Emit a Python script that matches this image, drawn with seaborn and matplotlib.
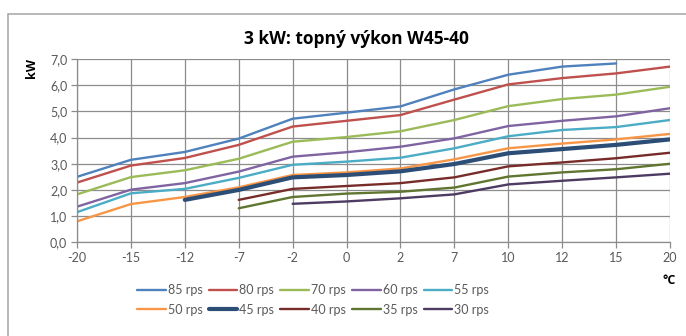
import numpy as np
import pandas as pd
import matplotlib
matplotlib.use("Agg")
import matplotlib.pyplot as plt
import seaborn as sns
from matplotlib.lines import Line2D

sns.set_theme(style="white")
plt.rcParams['font.family'] = ['Lato', 'DejaVu Sans']

temps = ["-20", "-15", "-12", "-7", "-2", "0", "2", "7", "10", "12", "15", "20"]
nan = np.nan
rps85 = [2.50, 3.15, 3.45, 3.96, 4.72, 4.95, 5.19, 5.84, 6.40, 6.71, 6.83, nan]
rps80 = [2.28, 2.93, 3.22, 3.72, 4.42, 4.64, 4.86, 5.45, 6.03, 6.27, 6.45, 6.71]
rps70 = [1.83, 2.49, 2.75, 3.19, 3.84, 4.02, 4.24, 4.67, 5.20, 5.47, 5.64, 5.94]
rps60 = [1.36, 2.01, 2.26, 2.70, 3.27, 3.44, 3.65, 3.97, 4.44, 4.64, 4.81, 5.12]
rps55 = [1.15, 1.87, 2.04, 2.46, 2.96, 3.08, 3.23, 3.59, 4.05, 4.29, 4.40, 4.67]
rps50 = [0.80, 1.46, 1.73, 2.10, 2.57, 2.67, 2.82, 3.17, 3.59, 3.77, 3.93, 4.14]
rps45 = [nan, nan, 1.62, 2.00, 2.48, 2.57, 2.71, 2.99, 3.40, 3.56, 3.72, 3.93]
rps40 = [nan, nan, nan, 1.62, 2.04, 2.15, 2.26, 2.48, 2.90, 3.05, 3.21, 3.42]
rps35 = [nan, nan, nan, 1.30, 1.73, 1.86, 1.93, 2.09, 2.51, 2.67, 2.79, 3.00]
rps30 = [nan, nan, nan, nan, 1.47, 1.56, 1.68, 1.83, 2.21, 2.35, 2.48, 2.62]

labels = ["85 rps", "80 rps", "70 rps", "60 rps", "55 rps",
          "50 rps", "45 rps", "40 rps", "35 rps", "30 rps"]
series = [rps85, rps80, rps70, rps60, rps55, rps50, rps45, rps40, rps35, rps30]
colors = ["#4F81BD", "#C0504D", "#9BBB59", "#8064A2", "#4BACC6",
          "#F79646", "#2C4D75", "#772C2A", "#5F7530", "#4D3B62"]
widths = [1.7, 1.7, 1.7, 1.7, 1.7, 1.7, 3.0, 1.7, 1.7, 1.7]

fig = plt.figure(figsize=(6.86, 3.36), dpi=100)
ax = fig.add_axes([77/686, 1-242.3/336, (670-77)/686, (242.3-59)/336])

pos = np.arange(len(temps))
for lab, vals, col, lw in zip(labels, series, colors, widths):
    df = pd.DataFrame({"pos": pos, "kW": vals}).dropna()
    sns.lineplot(data=df, x="pos", y="kW", ax=ax, color=col, linewidth=lw,
                 label=lab, legend=False)

ax.set_xlim(0, len(temps) - 1)
ax.set_ylim(0, 7)
ax.set_xticks(pos)
ax.set_xticklabels(temps)
yt = np.arange(0, 8, 1.0)
ax.set_yticks(yt)
ax.set_yticklabels([f"{v:.1f}".replace(".", ",") for v in yt])
ax.set_xlabel("")
ax.set_ylabel("")
ax.grid(True, color="#8C8C8C", linewidth=0.9)
ax.set_axisbelow(True)
for s in ["top", "right"]:
    ax.spines[s].set_visible(False)
for s in ["left", "bottom"]:
    ax.spines[s].set_color("#8C8C8C")
    ax.spines[s].set_linewidth(0.9)
ax.tick_params(axis="both", which="both", direction="out", length=4,
               color="#8C8C8C", width=0.9, labelsize=9, labelcolor="#595959",
               bottom=True, left=True, pad=3)

bold_fam = ['Open Sans', 'DejaVu Sans']
fig.text(356/686, 1-39/336, "3 kW: topný výkon W45-40", ha="center", va="center",
         fontsize=12.5, fontweight="bold", color="black", family=bold_fam)
fig.text(32/686, 1-68/336, "kW", ha="center", va="center", rotation=90,
         fontsize=9, fontweight="bold", color="black", family=bold_fam)
fig.text(669/686, 1-281/336, "°C", ha="center", va="center",
         fontsize=9, fontweight="bold", color="black", family=bold_fam)

handles, labs = ax.get_legend_handles_labels()
ncol = 5
order = [r * ncol + c for c in range(ncol) for r in range(2)]
fig.legend([handles[i] for i in order], [labs[i] for i in order],
           loc="center", bbox_to_anchor=(313/686, 1-300/336),
           ncol=ncol, frameon=False, fontsize=9, handlelength=2.3,
           handletextpad=0.15, columnspacing=0.5, labelcolor="#595959",
           borderaxespad=0, labelspacing=0.6)

# chart-area border (only left and top edges fall inside the image)
bx, by = 7.5/686, 1-13.5/336
fig.lines.append(Line2D([bx, bx], [0, by], transform=fig.transFigure,
                        color="#A6A6A6", linewidth=1.1))
fig.lines.append(Line2D([bx, 1], [by, by], transform=fig.transFigure,
                        color="#A6A6A6", linewidth=1.1))

fig.savefig("out.png", dpi=100)
